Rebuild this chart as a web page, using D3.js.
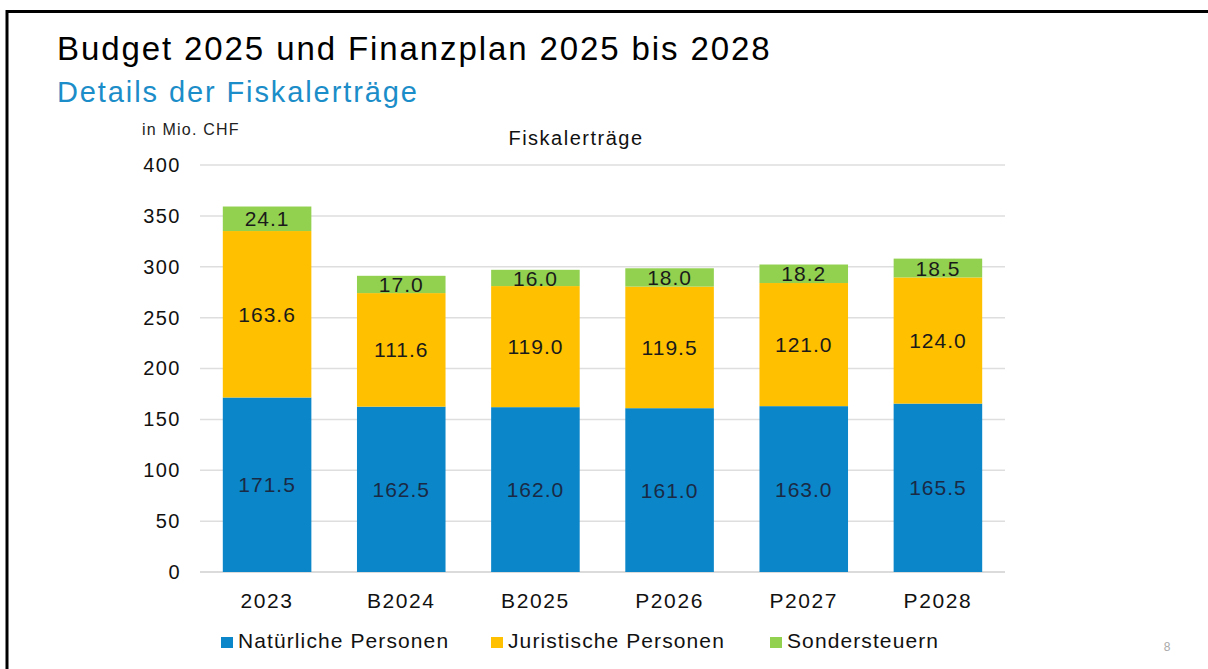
<!DOCTYPE html>
<html>
<head>
<meta charset="utf-8">
<script src="https://cdn.jsdelivr.net/npm/d3@7"></script>
<style>
  body { margin: 0; background: #fff; }
  svg { display: block; font-family: Arial, "Liberation Sans", sans-serif; }
</style>
</head>
<body>
<div id="chart"></div>
<script>
// Data
const categories = ["2023", "B2024", "B2025", "P2026", "P2027", "P2028"];
const natuerliche = [171.5, 162.5, 162.0, 161.0, 163.0, 165.5];
const juristische = [163.6, 111.6, 119.0, 119.5, 121.0, 124.0];
const sonder = [24.1, 17.0, 16.0, 18.0, 18.2, 18.5];
const seriesNames = ["Natürliche Personen", "Juristische Personen", "Sondersteuern"];
const yTicks = [0, 50, 100, 150, 200, 250, 300, 350, 400];

const colors = ["#0a86c9", "#ffc000", "#92d050"];

const W = 1208, H = 669;
const margin = { top: 165, right: 203, bottom: 97, left: 200 },
    width = W - margin.left - margin.right,
    height = H - margin.top - margin.bottom;

const svg = d3.select("#chart")
    .append("svg")
    .attr("width", W)
    .attr("height", H);

// Frame (top and left edge)
svg.append("path")
    .attr("d", `M7,${H} L7,11.5 L${W},11.5`)
    .attr("fill", "none")
    .attr("stroke", "#000")
    .attr("stroke-width", 3);

// Titles
svg.append("text")
    .attr("x", 57).attr("y", 60)
    .attr("font-size", 33)
    .attr("letter-spacing", 1.9)
    .attr("fill", "#000")
    .text("Budget 2025 und Finanzplan 2025 bis 2028");

svg.append("text")
    .attr("x", 57).attr("y", 102)
    .attr("font-size", 29)
    .attr("letter-spacing", 1.9)
    .attr("fill", "#1b8dc8")
    .text("Details der Fiskalerträge");

svg.append("text")
    .attr("x", 142).attr("y", 135)
    .attr("font-size", 16)
    .attr("letter-spacing", 1.2)
    .attr("fill", "#222")
    .text("in Mio. CHF");

svg.append("text")
    .attr("x", 576).attr("y", 145)
    .attr("font-size", 20)
    .attr("letter-spacing", 1.5)
    .attr("text-anchor", "middle")
    .attr("fill", "#111")
    .text("Fiskalerträge");

const g = svg.append("g")
    .attr("transform", `translate(${margin.left},${margin.top})`);

// Scales
const x = d3.scaleBand()
    .domain(categories)
    .range([0, width])
    .paddingInner(0.34)
    .paddingOuter(0.17);

const y = d3.scaleLinear()
    .domain([0, 400])
    .range([height, 0]);

// Gridlines
g.append("g")
    .selectAll("line")
    .data(yTicks)
    .join("line")
    .attr("x1", 0).attr("x2", width)
    .attr("y1", d => y(d)).attr("y2", d => y(d))
    .attr("stroke", d => d === 0 ? "#cfcfcf" : "#dedede")
    .attr("stroke-width", 1.5);

// Y axis labels
const yAxis = g.append("g")
    .call(d3.axisLeft(y).tickValues(yTicks).tickSize(0).tickPadding(19));
yAxis.select(".domain").remove();
yAxis.selectAll("text")
    .attr("font-size", 20)
    .attr("letter-spacing", 1.5)
    .attr("font-family", "Arial, 'Liberation Sans', sans-serif")
    .attr("fill", "#111");

// X axis labels
const xAxis = g.append("g")
    .attr("transform", `translate(0,${height})`)
    .call(d3.axisBottom(x).tickSize(0).tickPadding(21));
xAxis.select(".domain").remove();
xAxis.selectAll("text")
    .attr("font-size", 21)
    .attr("letter-spacing", 1.6)
    .attr("font-family", "Arial, 'Liberation Sans', sans-serif")
    .attr("fill", "#111");

// Stacked data
const rows = categories.map((c, i) => ({
    cat: c, n: natuerliche[i], j: juristische[i], s: sonder[i]
}));
const stack = d3.stack().keys(["n", "j", "s"]);
const layers = stack(rows);

layers.forEach((layer, li) => {
    const lg = g.append("g");
    lg.selectAll("rect")
        .data(layer)
        .join("rect")
        .attr("x", d => x(d.data.cat))
        .attr("width", x.bandwidth())
        .attr("y", d => y(d[1]))
        .attr("height", d => y(d[0]) - y(d[1]))
        .attr("fill", colors[li]);

    lg.selectAll("text")
        .data(layer)
        .join("text")
        .attr("x", d => x(d.data.cat) + x.bandwidth() / 2)
        .attr("y", d => y((d[0] + d[1]) / 2))
        .attr("dy", "0.36em")
        .attr("text-anchor", "middle")
        .attr("font-size", 21)
        .attr("letter-spacing", 1)
        .attr("fill", li === 0 ? "#1a2a45" : "#1a1a1a")
        .text(d => (d[1] - d[0]).toFixed(1));
});

// Legend
const legendX = [221, 491, 770];
const legend = svg.append("g")
    .selectAll("g")
    .data(seriesNames)
    .join("g")
    .attr("transform", (d, i) => `translate(${legendX[i]},648)`);

legend.append("rect")
    .attr("x", 0).attr("y", -11)
    .attr("width", 12).attr("height", 11)
    .attr("fill", (d, i) => colors[i]);

legend.append("text")
    .attr("x", 17)
    .attr("font-size", 21)
    .attr("letter-spacing", 1.1)
    .attr("fill", "#111")
    .text(d => d);

// Page number
svg.append("text")
    .attr("x", 1167).attr("y", 651)
    .attr("font-size", 12)
    .attr("text-anchor", "middle")
    .attr("fill", "#aaa")
    .text("8");
</script>
</body>
</html>
